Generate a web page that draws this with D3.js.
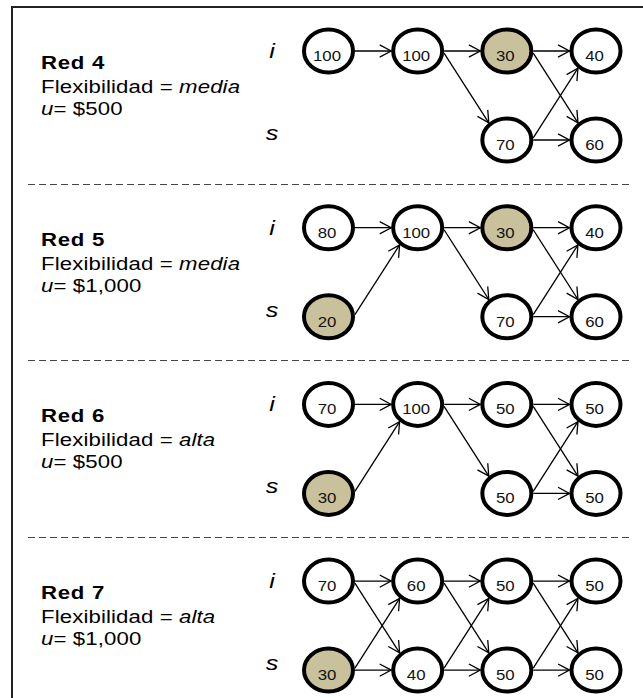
<!DOCTYPE html>
<html><head><meta charset="utf-8">
<script src="https://cdn.jsdelivr.net/npm/d3@7"></script>
<style>
html,body{margin:0;padding:0;background:#fff;}
svg{display:block;font-family:"Liberation Sans",Arial,Helvetica,sans-serif;}
</style></head>
<body>
<svg id="chart" width="643" height="698"></svg>
<script>
// ---- data ----
const networks = ["Red 4", "Red 5", "Red 6", "Red 7"];
const flexibility = ["media", "media", "alta", "alta"];
const costs = ["$500", "$1,000", "$500", "$1,000"];
const rowLabels = ["i", "s"];
const stages = [0, 1, 2, 3];
// node values per network: [stage][row] (null = no node)
const red4Values = [[100, null], [100, null], [30, 70], [40, 60]];
const red5Values = [[80, 20], [100, null], [30, 70], [40, 60]];
const red6Values = [[70, 30], [100, null], [50, 50], [50, 50]];
const red7Values = [[70, 30], [60, 40], [50, 50], [50, 50]];
// shaded nodes: [stage, row]
const red4Shaded = [[2, "i"]];
const red5Shaded = [[2, "i"], [0, "s"]];
const red6Shaded = [[0, "s"]];
const red7Shaded = [[0, "s"]];
// edges: [fromStage, fromRow, toRow] (to stage = fromStage + 1)
const red4Edges = [[0,"i","i"],[1,"i","i"],[1,"i","s"],[2,"i","i"],[2,"i","s"],[2,"s","i"],[2,"s","s"]];
const red5Edges = [[0,"i","i"],[0,"s","i"],[1,"i","i"],[1,"i","s"],[2,"i","i"],[2,"i","s"],[2,"s","i"],[2,"s","s"]];
const red6Edges = [[0,"i","i"],[0,"s","i"],[1,"i","i"],[1,"i","s"],[2,"i","i"],[2,"i","s"],[2,"s","i"],[2,"s","s"]];
const red7Edges = [[0,"i","i"],[0,"i","s"],[0,"s","i"],[0,"s","s"],[1,"i","i"],[1,"i","s"],[1,"s","i"],[1,"s","s"],[2,"i","i"],[2,"i","s"],[2,"s","i"],[2,"s","s"]];

const allValues = [red4Values, red5Values, red6Values, red7Values];
const allShaded = [red4Shaded, red5Shaded, red6Shaded, red7Shaded];
const allEdges = [red4Edges, red5Edges, red6Edges, red7Edges];

// ---- layout ----
const svg = d3.select("#chart");
const secScale = d3.scaleBand().domain(networks).range([7, 7 + 4 * 176.7]).padding(0);
const xScale = d3.scalePoint().domain(stages).range([328.5, 596]);
const rowScale = d3.scalePoint().domain(rowLabels).range([44, 133]);

const RX = 24.5, RY = 21.5, SW = 4;
const RXo = RX + SW / 2, RYo = RY + SW / 2;
const fillShade = "#c9c09c";
const STRETCH = 1.2;

// frame
svg.append("path").attr("d", "M12,698 L12,7 L643,7")
  .attr("fill", "none").attr("stroke", "#222").attr("stroke-width", 2);

// dashed separators
networks.slice(1).forEach(n => {
  const y = Math.round(secScale(n)) + 0.5;
  svg.append("line").attr("x1", 28).attr("x2", 632).attr("y1", y).attr("y2", y)
    .attr("stroke", "#444").attr("stroke-width", 1).attr("stroke-dasharray", "7,4");
});

function ellipseHit(S, A, c) {
  const D = [A[0] - S[0], A[1] - S[1]];
  const u = (S[0] - c[0]) / RXo, v = (S[1] - c[1]) / RYo;
  const du = D[0] / RXo, dv = D[1] / RYo;
  const a = du * du + dv * dv, b = 2 * (u * du + v * dv), cc = u * u + v * v - 1;
  const t = (-b - Math.sqrt(b * b - 4 * a * cc)) / (2 * a);
  return [S[0] + t * D[0], S[1] + t * D[1]];
}

// stretched text helper
function sText(parent, x, y) {
  return parent.append("g").attr("transform", `translate(${x},${y}) scale(${STRETCH},1)`)
    .append("text").attr("x", 0).attr("y", 0);
}

networks.forEach((net, k) => {
  const top = secScale(net);
  const g = svg.append("g");
  const yOf = r => top + rowScale(r);

  // left text
  sText(g, 41, top + 62)
    .attr("font-size", 18.5).attr("font-weight", "bold").attr("letter-spacing", 0.6)
    .attr("fill", "#000").text(net);
  const t2 = sText(g, 41, top + 86)
    .attr("font-size", 18.5).attr("letter-spacing", 0.1).attr("fill", "#000");
  t2.append("tspan").text("Flexibilidad = ");
  t2.append("tspan").attr("font-style", "italic").text(flexibility[k]);
  const t3 = sText(g, 41, top + 108)
    .attr("font-size", 18.5).attr("letter-spacing", 0.1).attr("fill", "#000");
  t3.append("tspan").attr("font-style", "italic").text("u");
  t3.append("tspan").text("= " + costs[k]);

  // row labels
  rowLabels.forEach(r => {
    sText(g, 272, yOf(r) + (r === "i" ? 7 : 0))
      .attr("text-anchor", "middle").attr("font-size", 21).attr("font-style", "italic")
      .attr("fill", "#000").text(r);
  });

  // edges
  allEdges[k].forEach(([st, fr, tr]) => {
    const sc = [xScale(st), yOf(fr)];
    const tc = [xScale(st + 1), yOf(tr)];
    const dir = tr === fr ? 0 : (rowScale(tr) > rowScale(fr) ? 1 : -1);
    const ang = dir * 5 * Math.PI / 180;
    const S = [sc[0] + RXo * Math.cos(ang), sc[1] + RYo * Math.sin(ang)];
    const aim = dir === 0 ? tc : [tc[0] - 7, tc[1]];
    const E = ellipseHit(S, aim, tc);
    const dx = E[0] - S[0], dy = E[1] - S[1];
    const L = Math.hypot(dx, dy), ux = dx / L, uy = dy / L;
    const al = 13, aa = 28 * Math.PI / 180;
    const arm = s => [E[0] - al * (ux * Math.cos(aa) - s * uy * Math.sin(aa)),
                      E[1] - al * (uy * Math.cos(aa) + s * ux * Math.sin(aa))];
    const a1 = arm(1), a2 = arm(-1);
    g.append("line").attr("x1", S[0]).attr("y1", S[1]).attr("x2", E[0]).attr("y2", E[1])
      .attr("stroke", "#000").attr("stroke-width", 1.3);
    g.append("path").attr("d", `M${a1[0]},${a1[1]} L${E[0]},${E[1]} L${a2[0]},${a2[1]}`)
      .attr("fill", "none").attr("stroke", "#000").attr("stroke-width", 1.3);
  });

  // nodes
  const shaded = allShaded[k];
  stages.forEach(st => {
    rowLabels.forEach((r, ri) => {
      const val = allValues[k][st][ri];
      if (val === null) return;
      const isShaded = shaded.some(([s2, r2]) => s2 === st && r2 === r);
      const cx = xScale(st), cy = yOf(r);
      g.append("ellipse").attr("cx", cx).attr("cy", cy).attr("rx", RX).attr("ry", RY)
        .attr("fill", isShaded ? fillShade : "#fff").attr("stroke", "#000").attr("stroke-width", SW);
      sText(g, cx - 1.5, cy + 10)
        .attr("text-anchor", "middle").attr("font-size", 14)
        .attr("fill", "#111").text(val);
    });
  });
});
</script>
</body></html>
